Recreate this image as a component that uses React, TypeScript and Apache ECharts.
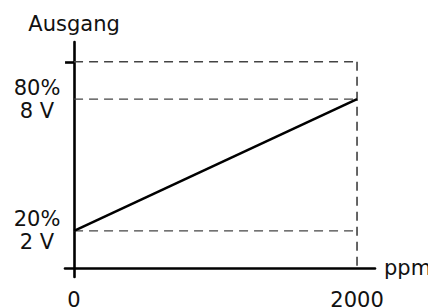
import React, { useEffect, useRef } from "react";
import * as echarts from "echarts";

// ---- data ----
const xRange = [0, 2000]; // ppm
const outputVolts = [2, 8]; // V at 0 ppm and 2000 ppm
const refLevels = [2, 8, 9.7]; // dashed guide levels
const xTickValues = [0, 2000];
const yTickValues = [2, 8];
const yTickPercent = ["20%", "80%"];
const yTickVolt = ["2 V", "8 V"];
const topTickValue = 9.7;
const baseLevel = 0.32; // where the drawn x axis line sits

export default function App() {
  const ref = useRef<HTMLDivElement>(null);
  useEffect(() => {
    document.body.style.margin = "0";
    if (!ref.current) return;
    const chart = echarts.init(ref.current, undefined, { renderer: "svg" });
    const font = "DejaVu Sans";
    const dashStyle = { color: "#444", width: 1.4, type: [9, 6] as number[] };
    const series: any[] = refLevels.map((lvl) => ({
      type: "line",
      data: [
        [xRange[0], lvl],
        [xRange[1], lvl],
      ],
      symbol: "none",
      lineStyle: dashStyle,
      z: 1,
      silent: true,
    }));
    series.push({
      type: "line",
      data: [
        [xRange[1], topTickValue],
        [xRange[1], baseLevel],
      ],
      symbol: "none",
      lineStyle: { color: "#555", width: 1.8, type: [9, 6] },
      z: 1,
      silent: true,
    });
    series.push({
      type: "line",
      data: xRange.map((x, i) => [x, outputVolts[i]]),
      symbol: "none",
      lineStyle: { color: "#000", width: 2.6 },
      z: 3,
    });
    chart.setOption({
      animation: false,
      grid: {
        left: 65,
        right: 53,
        top: 42,
        bottom: 30,
        containLabel: false,
        outerBoundsMode: "none",
      },
      xAxis: {
        type: "value",
        min: -64,
        max: 2127,
        offset: -9,
        axisLine: { onZero: false, lineStyle: { color: "#000", width: 2.6 } },
        axisTick: { show: false },
        splitLine: { show: false },
        axisLabel: {
          customValues: xTickValues,
          formatter: (v: number) => String(v),
          margin: 21,
          fontSize: 21,
          fontFamily: font,
          color: "#111",
        },
        name: "ppm",
        nameLocation: "end",
        nameGap: 9,
        nameTextStyle: {
          fontSize: 21,
          fontFamily: font,
          color: "#111",
          padding: [8, 0, 0, 0],
        },
      },
      yAxis: {
        type: "value",
        min: -0.1,
        max: 10.6,
        axisLine: { onZero: true, lineStyle: { color: "#000", width: 2.6 } },
        axisTick: {
          show: true,
          customValues: [topTickValue],
          length: 9,
          lineStyle: { color: "#000", width: 2.6 },
        },
        splitLine: { show: false },
        axisLabel: {
          customValues: yTickValues,
          formatter: (v: number) => {
            const i = yTickValues.indexOf(v);
            return i >= 0 ? yTickPercent[i] + "\n" + yTickVolt[i] : "";
          },
          align: "center",
          margin: 28,
          fontSize: 21,
          lineHeight: 23,
          fontFamily: font,
          color: "#111",
        },
        name: "Ausgang",
        nameLocation: "end",
        nameGap: 8,
        nameTextStyle: {
          fontSize: 21,
          fontFamily: font,
          color: "#111",
          align: "center",
        },
      },
      series,
    });
    return () => chart.dispose();
  }, []);
  return <div ref={ref} style={{ width: 428, height: 307 }} />;
}
